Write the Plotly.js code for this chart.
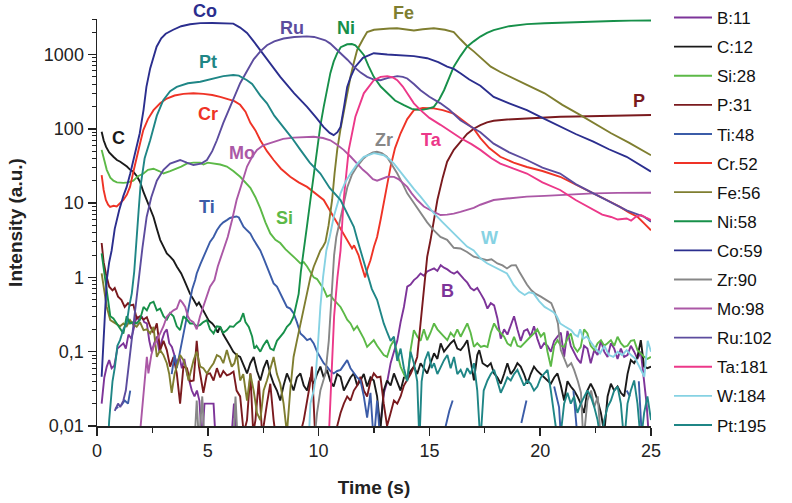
<!DOCTYPE html>
<html>
<head>
<meta charset="utf-8">
<script src="https://cdn.plot.ly/plotly-3.0.1.min.js"></script>
<style>html,body{margin:0;padding:0;background:#fff;}#chart{width:792px;height:503px;}</style>
</head>
<body>
<div id="chart"></div>
<script>
// Each series: [time (s), intensity (a.u.)]; null = gap
const B_11 = [[0.21,0.020],[0.33,0.045],[0.44,0.063],[0.55,0.077],[0.66,0.06],[0.78,0.065],[0.92,0.11],[1.05,0.12],[1.19,0.13],[1.3,0.11],[1.42,0.17],[1.55,0.15],[1.68,0.22],[1.79,0.3],[1.9,0.26],[2.02,0.3],[2.13,0.25],[2.25,0.24],[2.36,0.14],[2.47,0.1],[2.58,0.13],[2.7,0.16],[2.81,0.1],[2.92,0.14],[3.04,0.18],[3.15,0.2],[3.26,0.13],[3.38,0.116],[3.49,0.09],[3.6,0.07],[3.72,0.085],[3.83,0.06],[3.94,0.08],[4.06,0.051],[4.17,0.04],[4.28,0.03],[4.4,0.025],[4.51,0.03],[4.62,0.022],[4.74,0.006],[4.85,0.02],[4.96,0.02],[5.1,0.02],[5.26,0.02],[5.36,0.006],[6.05,0.006],[6.18,0.02],[6.3,0.006],[12.7,0.006],[12.95,0.028],[13.1,0.04],[13.25,0.07],[13.4,0.1],[13.55,0.14],[13.7,0.25],[13.85,0.4],[14.0,0.75],[14.15,0.8],[14.3,0.92],[14.45,1.0],[14.6,1.13],[14.75,1.05],[14.9,1.2],[15.05,1.25],[15.21,1.32],[15.36,1.22],[15.51,1.46],[15.66,1.35],[15.81,1.28],[15.96,1.18],[16.11,1.12],[16.26,1.2],[16.41,1.05],[16.56,0.95],[16.71,0.85],[16.86,0.72],[17.01,0.67],[17.16,0.72],[17.32,0.6],[17.47,0.5],[17.62,0.38],[17.77,0.45],[17.92,0.42],[18.07,0.28],[18.22,0.15],[18.37,0.2],[18.52,0.17],[18.67,0.22],[18.82,0.3],[18.97,0.2],[19.12,0.14],[19.27,0.19],[19.42,0.2],[19.57,0.16],[19.72,0.22],[19.87,0.15],[20.03,0.11],[20.18,0.13],[20.33,0.12],[20.48,0.1],[20.63,0.14],[20.78,0.16],[20.93,0.18],[21.08,0.085],[21.23,0.19],[21.38,0.12],[21.53,0.1],[21.68,0.08],[21.83,0.07],[21.98,0.12],[22.13,0.11],[22.28,0.07],[22.44,0.105],[22.59,0.09],[22.74,0.14],[22.89,0.1],[23.04,0.085],[23.19,0.13],[23.34,0.11],[23.49,0.08],[23.64,0.11],[23.79,0.085],[23.94,0.09],[24.09,0.12],[24.24,0.1],[24.39,0.08],[24.54,0.1],[24.69,0.04],[24.8,0.02],[24.92,0.006]];

const C_12 = [[0.21,91],[0.3,70],[0.41,57],[0.55,48],[0.74,42],[0.9,38],[1.05,36],[1.19,34],[1.35,31],[1.5,28],[1.64,26.5],[1.8,23],[1.94,19.4],[2.1,14],[2.24,11],[2.4,8.5],[2.55,6.5],[2.7,4.5],[2.85,3.2],[3.0,2.6],[3.15,2.1],[3.3,1.9],[3.45,1.7],[3.6,1.4],[3.8,1.13],[3.95,0.9],[4.06,0.75],[4.2,0.6],[4.36,0.5],[4.5,0.42],[4.6,0.46],[4.75,0.38],[4.9,0.3],[5.05,0.26],[5.2,0.24],[5.35,0.21],[5.45,0.18],[5.55,0.22],[5.7,0.17],[5.85,0.14],[6.0,0.12],[6.15,0.1],[6.3,0.09],[6.46,0.085],[6.62,0.065],[6.77,0.051],[6.92,0.07],[7.07,0.085],[7.22,0.055],[7.37,0.041],[7.52,0.06],[7.67,0.077],[7.82,0.05],[7.97,0.037],[8.12,0.03],[8.27,0.022],[8.42,0.035],[8.57,0.051],[8.72,0.04],[8.87,0.03],[9.02,0.045],[9.18,0.051],[9.33,0.035],[9.48,0.03],[9.63,0.045],[9.78,0.037],[9.93,0.05],[10.08,0.063],[10.23,0.045],[10.38,0.057],[10.53,0.04],[10.68,0.034],[10.84,0.05],[10.99,0.046],[11.14,0.03],[11.29,0.037],[11.44,0.045],[11.59,0.051],[11.74,0.035],[11.89,0.041],[12.04,0.05],[12.19,0.034],[12.34,0.045],[12.49,0.041],[12.64,0.025],[12.79,0.009],[12.94,0.03],[13.09,0.041],[13.25,0.035],[13.4,0.051],[13.55,0.04],[13.7,0.03],[13.85,0.045],[14.0,0.046],[14.15,0.055],[14.3,0.063],[14.45,0.05],[14.6,0.07],[14.75,0.06],[14.9,0.051],[15.05,0.07],[15.21,0.095],[15.36,0.08],[15.51,0.129],[15.66,0.1],[15.81,0.116],[15.96,0.13],[16.11,0.143],[16.26,0.11],[16.41,0.105],[16.56,0.12],[16.71,0.143],[16.86,0.08],[17.01,0.041],[17.16,0.09],[17.25,0.105],[17.4,0.07],[17.62,0.063],[17.77,0.07],[17.92,0.051],[18.07,0.045],[18.22,0.037],[18.37,0.05],[18.52,0.07],[18.67,0.05],[18.82,0.057],[18.97,0.07],[19.12,0.063],[19.27,0.05],[19.42,0.037],[19.57,0.05],[19.72,0.063],[19.87,0.055],[20.03,0.05],[20.18,0.046],[20.33,0.041],[20.48,0.037],[20.63,0.045],[20.78,0.051],[20.93,0.035],[21.08,0.022],[21.23,0.04],[21.38,0.034],[21.53,0.03],[21.68,0.025],[21.83,0.02],[21.98,0.015],[22.13,0.03],[22.28,0.037],[22.44,0.03],[22.59,0.022],[22.74,0.015],[22.89,0.008],[23.04,0.025],[23.19,0.037],[23.34,0.03],[23.49,0.034],[23.64,0.028],[23.79,0.025],[23.94,0.05],[24.09,0.077],[24.24,0.07],[24.39,0.085],[24.54,0.143],[24.69,0.063],[24.84,0.06],[25.0,0.063]];

const Si_28 = [[0.21,52],[0.3,40],[0.44,28],[0.6,22],[0.74,20],[0.9,19],[1.19,18.7],[1.4,19],[1.64,20],[1.85,23],[2.1,25],[2.3,28],[2.55,29],[2.8,27],[3.0,25],[3.3,27],[3.6,29],[3.8,31],[4.05,34],[4.35,35],[4.66,35],[4.8,33],[5.0,35],[5.26,34],[5.56,33],[5.86,31],[6.15,27],[6.46,22.6],[6.7,19],[6.92,16],[7.15,12],[7.37,8.5],[7.6,5.5],[7.82,3.9],[8.05,3.2],[8.27,2.9],[8.5,2.4],[8.72,2.1],[8.95,1.8],[9.18,1.54],[9.33,1.6],[9.48,1.4],[9.63,1.2],[9.78,1.0],[9.93,0.95],[10.08,0.83],[10.23,0.7],[10.38,0.55],[10.53,0.58],[10.68,0.5],[10.84,0.45],[10.99,0.4],[11.14,0.33],[11.29,0.27],[11.44,0.24],[11.59,0.195],[11.74,0.22],[11.89,0.18],[12.04,0.15],[12.19,0.116],[12.34,0.13],[12.49,0.143],[12.64,0.12],[12.79,0.105],[12.94,0.09],[13.09,0.085],[13.25,0.12],[13.4,0.143],[13.55,0.09],[13.7,0.063],[13.85,0.05],[14.0,0.041],[14.15,0.105],[14.3,0.195],[14.45,0.16],[14.6,0.14],[14.75,0.2],[14.9,0.143],[15.05,0.18],[15.21,0.24],[15.36,0.2],[15.51,0.176],[15.66,0.16],[15.81,0.143],[15.96,0.18],[16.11,0.159],[16.26,0.2],[16.41,0.159],[16.56,0.2],[16.71,0.24],[16.86,0.18],[17.01,0.116],[17.16,0.13],[17.32,0.116],[17.47,0.12],[17.62,0.116],[17.77,0.18],[17.92,0.24],[18.07,0.2],[18.22,0.176],[18.37,0.16],[18.52,0.129],[18.67,0.12],[18.82,0.159],[18.97,0.12],[19.12,0.116],[19.27,0.13],[19.42,0.143],[19.57,0.16],[19.72,0.176],[19.87,0.2],[20.03,0.16],[20.18,0.18],[20.33,0.1],[20.48,0.063],[20.63,0.12],[20.78,0.143],[20.93,0.12],[21.08,0.116],[21.23,0.15],[21.38,0.176],[21.53,0.116],[21.68,0.1],[21.83,0.116],[21.98,0.2],[22.13,0.176],[22.28,0.12],[22.44,0.105],[22.59,0.13],[22.74,0.143],[22.89,0.12],[23.04,0.13],[23.19,0.143],[23.34,0.12],[23.49,0.159],[23.64,0.13],[23.79,0.116],[23.94,0.12],[24.09,0.14],[24.24,0.143],[24.39,0.105],[24.54,0.095],[24.69,0.085],[24.84,0.08],[25.0,0.085]];

const P_31 = [[0.21,2.9],[0.3,1.6],[0.4,1.13],[0.55,0.75],[0.7,0.67],[0.8,0.72],[0.95,0.55],[1.1,0.5],[1.25,0.4],[1.4,0.45],[1.5,0.42],[1.64,0.43],[1.79,0.28],[1.94,0.3],[2.1,0.27],[2.25,0.29],[2.4,0.22],[2.55,0.18],[2.7,0.24],[2.85,0.105],[3.0,0.14],[3.15,0.105],[3.3,0.063],[3.45,0.085],[3.6,0.051],[3.75,0.02],[3.9,0.063],[4.06,0.06],[4.2,0.04],[4.36,0.041],[4.5,0.14],[4.6,0.063],[4.8,0.028],[4.96,0.05],[5.1,0.051],[5.26,0.041],[5.41,0.06],[5.56,0.045],[5.7,0.055],[5.86,0.048],[6.0,0.05],[6.16,0.054],[6.3,0.03],[6.46,0.025],[6.62,0.008],[6.77,0.012],[6.92,0.051],[7.05,0.008],[7.15,0.012],[7.3,0.041],[7.45,0.008],[7.52,0.01],[7.67,0.02],[7.82,0.037],[7.97,0.012],[8.1,0.006],[8.9,0.006],[9.18,0.008],[9.33,0.012],[9.48,0.022],[9.6,0.035],[9.7,0.063],[9.86,0.006],[10.6,0.006],[10.68,0.008],[10.84,0.01],[10.99,0.015],[11.14,0.02],[11.29,0.025],[11.44,0.022],[11.59,0.03],[11.74,0.035],[11.89,0.046],[12.04,0.03],[12.19,0.025],[12.34,0.04],[12.49,0.051],[12.64,0.045],[12.79,0.046],[12.94,0.02],[13.09,0.01],[13.25,0.015],[13.4,0.022],[13.55,0.02],[13.7,0.025],[13.85,0.035],[14.0,0.041],[14.15,0.05],[14.3,0.063],[14.45,0.085],[14.6,0.24],[14.75,0.67],[14.9,1.89],[15.05,3.18],[15.2,6],[15.36,11],[15.6,22],[15.8,36],[16.1,52],[16.4,66],[16.7,85],[17.0,100],[17.3,112],[17.6,122],[17.9,128],[18.5,133],[19.4,138],[20.2,141],[20.9,145],[21.6,146],[22.4,147],[23.2,149],[24.1,151],[25.0,153]];

const Ti_48 = [[0.82,0.017],[0.96,0.018],[1.0,null],[1.1,0.019],[1.25,0.022],[1.4,0.02],[1.5,0.03],[1.55,null],[3.37,0.05],[3.5,0.09],[3.6,0.06],[3.75,0.1],[3.9,0.18],[4.06,0.3],[4.2,0.5],[4.3,0.7],[4.43,0.92],[4.5,1.13],[4.66,1.5],[4.8,1.9],[4.96,2.4],[5.1,3.0],[5.26,3.5],[5.41,4.3],[5.56,5.0],[5.7,5.5],[5.86,5.9],[6.0,6.3],[6.16,6.5],[6.3,6.6],[6.4,6.4],[6.5,5.5],[6.61,4.8],[6.77,4.3],[6.92,3.9],[7.07,3.2],[7.2,2.8],[7.37,2.3],[7.52,1.8],[7.67,1.4],[7.82,1.1],[7.97,0.83],[8.12,0.75],[8.27,0.6],[8.42,0.5],[8.57,0.4],[8.72,0.38],[8.87,0.33],[9.02,0.25],[9.18,0.176],[9.33,0.16],[9.48,0.143],[9.63,0.15],[9.78,0.129],[9.93,0.1],[10.08,0.085],[10.23,0.07],[10.38,0.063],[10.53,0.055],[10.68,0.051],[10.84,0.055],[10.99,0.057],[11.14,0.065],[11.29,0.077],[11.44,0.06],[11.59,0.051],[11.74,0.045],[11.89,0.041],[12.04,0.025],[12.19,0.013],[12.34,0.028],[12.49,0.006],[12.64,0.022],[12.79,0.006],[12.85,null],[15.7,0.009],[15.9,0.016],[16.05,0.022],[16.1,null],[19.15,0.011],[19.38,0.022],[19.45,null],[20.63,0.034],[20.85,0.018],[20.95,0.006],[21.0,null],[21.5,0.03],[21.7,0.006],[21.75,null],[23.9,0.03],[24.05,0.025],[24.1,null],[24.45,0.04],[24.6,0.006]];

const Cr_52 = [[0.21,23.8],[0.3,15],[0.4,11],[0.5,9.5],[0.59,8.9],[0.75,9.2],[0.89,9],[1.05,10],[1.19,11],[1.35,13],[1.49,16.5],[1.65,27],[1.79,42],[1.95,65],[2.09,96],[2.3,135],[2.55,178],[2.85,220],[3.15,255],[3.5,280],[3.9,295],[4.35,300],[4.8,295],[5.2,285],[5.56,268],[5.9,250],[6.2,235],[6.46,210],[6.7,170],[6.92,120],[7.15,95],[7.37,70],[7.67,50],[7.97,38],[8.3,29],[8.72,22.6],[9.1,19],[9.48,16.5],[9.85,13.5],[10.23,11],[10.45,8.5],[10.68,6.5],[10.9,5],[11.13,3.9],[11.35,3],[11.51,2.45],[11.6,2.7],[11.8,2.0],[11.95,1.4],[12.1,1.0],[12.2,1.3],[12.34,1.7],[12.5,2.6],[12.64,3.5],[12.8,6],[12.95,11],[13.1,18],[13.25,31],[13.45,55],[13.7,87],[14.0,135],[14.3,178],[14.7,190],[15.2,188],[15.6,178],[16.1,160],[16.5,130],[17.0,100],[17.3,75],[17.7,55],[18.2,42],[18.8,35],[19.4,30.6],[20.1,27],[20.9,22.6],[21.7,17],[22.4,13.5],[23.0,11],[23.6,8.9],[24.0,7.5],[24.4,6.5],[24.7,5.3],[25.0,4.3]];

const Fe_56 = [[0.21,1.13],[0.33,0.6],[0.44,0.4],[0.6,0.266],[0.75,0.25],[0.89,0.23],[1.04,0.22],[1.19,0.24],[1.34,0.22],[1.49,0.266],[1.64,0.23],[1.79,0.216],[1.94,0.25],[2.1,0.195],[2.25,0.2],[2.4,0.176],[2.55,0.216],[2.7,0.085],[2.85,0.105],[3.0,0.09],[3.15,0.07],[3.26,0.05],[3.37,0.028],[3.5,0.05],[3.6,0.063],[3.75,0.09],[3.9,0.077],[4.02,0.06],[4.13,0.041],[4.25,0.06],[4.36,0.077],[4.5,0.1],[4.66,0.063],[4.8,0.06],[4.96,0.051],[5.1,0.06],[5.26,0.07],[5.41,0.09],[5.56,0.085],[5.7,0.07],[5.86,0.105],[5.97,0.08],[6.08,0.063],[6.2,0.07],[6.31,0.095],[6.46,0.041],[6.6,0.05],[6.77,0.022],[6.92,0.05],[7.07,0.03],[7.22,0.015],[7.37,0.012],[7.52,0.03],[7.67,0.041],[7.82,0.06],[7.97,0.085],[8.12,0.05],[8.27,0.037],[8.42,0.02],[8.57,0.008],[8.72,0.03],[8.87,0.085],[9.02,0.14],[9.18,0.24],[9.33,0.4],[9.48,0.67],[9.63,1.0],[9.78,1.39],[9.93,1.8],[10.08,2.3],[10.2,2.6],[10.31,3.0],[10.45,5],[10.61,11],[10.72,25],[10.84,52],[10.99,100],[11.14,178],[11.3,300],[11.44,500],[11.6,800],[11.74,1150],[12.0,1600],[12.19,2000],[12.5,2150],[12.79,2200],[13.2,2230],[13.54,2250],[13.9,2180],[14.3,2100],[14.7,2180],[15.2,2250],[15.7,2150],[16.1,2000],[16.4,1600],[16.7,1300],[17.0,1100],[17.4,850],[17.77,685],[18.2,580],[18.67,500],[19.4,390],[20.2,300],[21.0,210],[21.7,160],[22.5,115],[23.2,87],[24.0,65],[24.5,53],[25.0,44]];

const Ni_58 = [[0.21,2.1],[0.35,1.0],[0.44,0.67],[0.6,0.3],[0.74,0.28],[0.89,0.24],[1.04,0.2],[1.19,0.176],[1.34,0.3],[1.49,0.24],[1.64,0.25],[1.79,0.24],[1.94,0.27],[2.1,0.4],[2.25,0.36],[2.4,0.45],[2.55,0.47],[2.7,0.36],[2.85,0.38],[3.0,0.3],[3.15,0.27],[3.3,0.33],[3.45,0.3],[3.6,0.22],[3.75,0.195],[3.9,0.3],[4.06,0.27],[4.2,0.24],[4.36,0.24],[4.5,0.22],[4.66,0.23],[4.8,0.25],[4.96,0.266],[5.1,0.2],[5.26,0.176],[5.41,0.22],[5.56,0.216],[5.7,0.18],[5.86,0.195],[6.0,0.22],[6.16,0.216],[6.3,0.24],[6.46,0.26],[6.6,0.33],[6.7,0.25],[6.85,0.216],[7.0,0.16],[7.1,0.11],[7.2,0.12],[7.37,0.1],[7.5,0.12],[7.67,0.143],[7.82,0.11],[7.97,0.105],[8.12,0.14],[8.27,0.159],[8.42,0.18],[8.57,0.216],[8.72,0.24],[8.87,0.295],[9.0,0.45],[9.1,0.6],[9.2,1.2],[9.33,2.5],[9.48,5],[9.63,11],[9.78,25],[9.93,52],[10.08,110],[10.23,197],[10.38,330],[10.53,560],[10.68,800],[10.84,1040],[11.0,1250],[11.29,1370],[11.5,1380],[11.66,1330],[11.85,1150],[12.04,985],[12.25,700],[12.49,500],[12.8,370],[13.1,300],[13.45,240],[13.85,208],[14.2,185],[14.6,178],[14.9,185],[15.2,197],[15.45,250],[15.66,330],[15.9,480],[16.1,685],[16.4,950],[16.7,1270],[17.0,1500],[17.3,1740],[17.6,1950],[17.9,2130],[18.6,2400],[19.4,2560],[20.2,2630],[20.9,2680],[21.7,2730],[22.4,2780],[23.3,2820],[24.1,2850],[25.0,2870]];

const Co_59 = [[0.21,0.046],[0.3,0.15],[0.37,0.4],[0.44,0.92],[0.55,1.6],[0.66,2.3],[0.8,4.5],[1.0,8],[1.19,12.5],[1.34,16.5],[1.5,25],[1.65,40],[1.8,60],[1.93,87],[2.1,180],[2.23,366],[2.4,650],[2.55,950],[2.69,1270],[2.9,1650],[3.1,1900],[3.44,2150],[3.8,2400],[4.2,2550],[4.66,2640],[5.2,2650],[5.7,2640],[6.15,2600],[6.46,2300],[6.77,1950],[7.07,1500],[7.37,1130],[7.8,750],[8.27,500],[8.9,300],[9.48,197],[9.9,140],[10.22,106],[10.5,88],[10.68,82],[10.85,90],[10.99,106],[11.15,200],[11.29,366],[11.45,500],[11.66,685],[12.0,900],[12.49,1040],[13.1,1000],[13.7,985],[14.3,950],[14.9,890],[15.4,790],[15.8,685],[16.1,640],[16.4,560],[16.8,460],[17.3,380],[17.9,268],[18.6,220],[19.4,178],[20.1,140],[20.9,106],[21.6,85],[22.4,67],[23.1,53],[23.9,42],[24.5,33],[25.0,26.5]];

const Zr_90 = [[4.4,0.006],[4.5,0.022],[4.6,0.006],[4.75,0.025],[4.85,0.006],[6.15,0.006],[6.25,0.025],[6.35,0.006],[9.8,0.006],[9.93,0.015],[10.08,0.03],[10.2,0.041],[10.31,0.051],[10.46,0.14],[10.6,0.6],[10.7,2.0],[10.8,3.5],[11.0,6.5],[11.15,11],[11.3,16.5],[11.5,24],[11.73,31],[12.0,39],[12.2,44],[12.45,48],[12.63,49],[12.85,47],[13.08,42],[13.3,33],[13.55,25],[13.8,18],[14.0,13.5],[14.3,10],[14.6,7.3],[14.9,5.5],[15.2,4.3],[15.5,3.5],[15.8,3.2],[16.1,2.5],[16.4,2.45],[16.7,2.2],[17.0,1.9],[17.3,1.8],[17.6,1.7],[17.8,1.75],[18.07,1.54],[18.3,1.45],[18.5,1.32],[18.7,1.45],[18.9,1.46],[19.05,1.2],[19.2,1.0],[19.4,0.8],[19.6,0.67],[19.8,0.6],[20.03,0.55],[20.25,0.5],[20.5,0.45],[20.65,0.35],[20.8,0.24],[20.93,0.105],[21.1,0.08],[21.23,0.063],[21.4,0.07],[21.53,0.057],[21.7,0.04],[21.84,0.028],[21.95,0.006],[22.13,0.022],[22.3,0.03],[22.44,0.018],[22.6,0.025],[22.74,0.006]];

const Mo_98 = [[1.94,0.008],[2.1,0.03],[2.25,0.085],[2.32,0.051],[2.45,0.09],[2.55,0.116],[2.7,0.14],[2.85,0.176],[3.0,0.22],[3.15,0.295],[3.3,0.33],[3.45,0.36],[3.6,0.38],[3.75,0.5],[3.87,0.45],[3.98,0.4],[4.1,0.3],[4.2,0.266],[4.35,0.25],[4.5,0.2],[4.65,0.3],[4.8,0.4],[4.96,0.55],[5.1,0.75],[5.3,0.92],[5.45,1.4],[5.6,1.9],[5.75,2.6],[5.9,3.5],[6.1,6],[6.3,11],[6.5,17],[6.77,31],[7.0,42],[7.22,52],[7.5,60],[7.97,67],[8.4,73],[8.87,76],[9.3,77],[9.78,78],[10.2,75],[10.53,70],[10.8,62],[11.13,52],[11.45,42],[11.73,34],[12.0,28],[12.2,25],[12.45,21],[12.64,20],[12.85,21],[13.1,22.6],[13.4,22.5],[13.6,21],[14.0,16.5],[14.2,13.5],[14.45,11],[14.75,9],[15.05,8],[15.5,6.9],[15.8,7.0],[16.1,7.2],[16.4,7.6],[16.7,8],[17.0,8.6],[17.3,9.5],[17.6,10.2],[17.9,11],[18.5,11.5],[19.4,12.2],[20.2,12.5],[20.9,12.8],[21.6,13.2],[22.4,13.5],[23.5,13.7],[25.0,13.8]];

const Ru_102 = [[0.8,0.016],[0.95,0.02],[1.05,0.018],[1.19,0.022],[1.3,0.03],[1.42,0.06],[1.55,0.15],[1.68,0.3],[1.8,0.55],[1.94,1.2],[2.05,2.5],[2.24,6.5],[2.45,12],[2.7,20],[3.0,28],[3.3,34],[3.75,38],[4.05,35],[4.35,32.5],[4.7,34],[4.96,38],[5.2,50],[5.41,70],[5.7,120],[6.0,197],[6.2,280],[6.46,410],[6.77,600],[7.07,860],[7.37,1100],[7.67,1330],[8.0,1500],[8.42,1640],[8.9,1720],[9.47,1750],[9.8,1720],[10.08,1640],[10.3,1550],[10.53,1400],[10.75,1200],[10.99,1040],[11.3,850],[11.59,685],[11.9,570],[12.19,500],[12.5,460],[12.79,450],[13.1,480],[13.55,510],[13.8,500],[14.0,475],[14.3,400],[14.6,330],[15.0,270],[15.5,220],[15.9,180],[16.4,130],[16.8,110],[17.3,90],[17.9,63],[18.6,48],[19.4,38],[20.1,30],[20.9,25],[21.6,18],[22.4,13.5],[23.1,10.5],[23.9,8],[24.3,7.2],[24.7,6.5],[25.0,5.6]];

const Ta_181 = [[10.45,0.006],[10.6,0.07],[10.7,0.3],[10.85,1.0],[10.99,2.3],[11.13,11],[11.36,52],[11.66,145],[12.04,300],[12.49,450],[12.8,500],[13.1,510],[13.35,490],[13.55,450],[13.8,370],[14.0,300],[14.3,220],[14.6,178],[15.0,140],[15.5,113],[16.0,90],[16.4,75],[16.9,62],[17.3,52],[17.8,40],[18.2,34],[18.8,29],[19.4,25],[20.1,19],[20.9,15],[21.6,11],[22.0,9.5],[22.4,8],[22.8,7],[23.2,6.5],[23.5,6.0],[23.9,6.2],[24.1,5.8],[24.3,6.5],[24.55,6.9],[24.8,6.3],[25.0,5.9]];

const W_184 = [[9.55,0.006],[9.63,0.02],[9.78,0.03],[9.85,0.041],[9.95,0.1],[10.08,0.4],[10.2,1.0],[10.35,2.3],[10.5,3.5],[10.68,6.5],[10.99,13.5],[11.2,19],[11.44,25],[11.75,34],[12.04,42],[12.5,47],[12.94,44],[13.2,39],[13.4,34],[13.7,26],[14.0,20],[14.3,15.5],[14.6,12.2],[14.9,9.5],[15.2,7.3],[15.6,5.5],[16.1,3.9],[16.4,3.2],[16.7,2.6],[17.0,2.3],[17.3,1.8],[17.6,1.55],[17.9,1.39],[18.2,1.25],[18.5,1.13],[18.65,0.95],[18.8,0.79],[19.05,0.65],[19.3,0.58],[19.5,0.63],[19.7,0.61],[19.95,0.48],[20.2,0.4],[20.4,0.37],[20.6,0.34],[20.75,0.3],[20.9,0.24],[21.1,0.22],[21.4,0.195],[21.55,0.17],[21.7,0.16],[21.8,0.2],[21.95,0.15],[22.1,0.16],[22.3,0.13],[22.5,0.11],[22.7,0.095],[22.9,0.12],[23.1,0.09],[23.3,0.085],[23.5,0.1],[23.7,0.09],[23.9,0.105],[24.1,0.09],[24.3,0.08],[24.5,0.06],[24.7,0.046],[24.85,0.14],[25.0,0.1]];

const Pt_195 = [[0.5,0.006],[0.55,0.012],[0.7,0.04],[0.81,0.063],[0.92,0.12],[1.04,0.143],[1.19,0.2],[1.34,0.24],[1.45,0.4],[1.57,0.61],[1.68,1.2],[1.79,3.0],[1.88,8],[1.96,16.5],[2.15,40],[2.4,70],[2.7,150],[2.99,243],[3.3,320],[3.6,366],[4.1,410],[4.66,430],[5.2,470],[5.7,510],[6.15,530],[6.4,520],[6.77,450],[7.0,400],[7.37,280],[7.67,220],[8.0,150],[8.42,106],[8.8,75],[9.18,52],[9.6,35],[10.08,25],[10.5,16],[10.99,11],[11.3,7],[11.59,4.8],[11.75,3.2],[11.89,2.3],[12.04,1.6],[12.19,1.13],[12.4,0.7],[12.64,0.5],[12.8,0.33],[12.94,0.24],[13.1,0.18],[13.25,0.14],[13.4,0.16],[13.55,0.075],[13.7,0.11],[13.85,0.06],[14.0,0.04],[14.15,0.1],[14.3,0.07],[14.45,0.04],[14.55,0.006],[14.65,0.04],[14.8,0.077],[14.95,0.1],[15.1,0.06],[15.21,0.07],[15.36,0.05],[15.51,0.063],[15.66,0.077],[15.81,0.09],[15.96,0.06],[16.11,0.085],[16.26,0.05],[16.41,0.057],[16.56,0.045],[16.71,0.06],[16.86,0.05],[17.01,0.07],[17.16,0.03],[17.3,0.006],[17.45,0.03],[17.62,0.041],[17.77,0.05],[17.92,0.057],[18.07,0.04],[18.22,0.028],[18.37,0.035],[18.52,0.045],[18.67,0.041],[18.82,0.05],[18.97,0.057],[19.12,0.045],[19.27,0.035],[19.42,0.041],[19.57,0.037],[19.72,0.03],[19.87,0.034],[20.03,0.045],[20.18,0.05],[20.33,0.057],[20.48,0.03],[20.63,0.015],[20.8,0.006],[20.93,0.008],[21.08,0.02],[21.23,0.028],[21.38,0.02],[21.53,0.025],[21.68,0.015],[21.83,0.02],[21.98,0.025],[22.13,0.03],[22.28,0.025],[22.44,0.018],[22.59,0.012],[22.74,0.006],[22.89,0.012],[23.04,0.018],[23.19,0.022],[23.34,0.03],[23.49,0.034],[23.64,0.02],[23.79,0.006],[23.94,0.02],[24.09,0.03],[24.24,0.041],[24.39,0.02],[24.54,0.006],[24.69,0.015],[24.84,0.025],[25.0,0.012]];

const legendNames = ['B:11','C:12','Si:28','P:31','Ti:48','Cr.52','Fe:56','Ni:58','Co:59','Zr:90','Mo:98','Ru:102','Ta:181','W:184','Pt:195'];
const seriesData = [B_11, C_12, Si_28, P_31, Ti_48, Cr_52, Fe_56, Ni_58, Co_59, Zr_90, Mo_98, Ru_102, Ta_181, W_184, Pt_195];
const colors = ['#7d3499','#1a1a1a','#5cb947','#7a1a1e','#3b5ca8','#ef3326','#7f7e30','#17904a','#2b2e8e','#878787','#ab58a6','#5c4c9e','#ec3889','#86d2e3','#1f8686'];

// Element labels drawn on the chart
const labelText = ['Co','Pt','Cr','C','Mo','Ti','Si','Ru','Ni','Fe','Zr','Ta','W','B','P'];
const labelColor = ['#2b2e8e','#1f8686','#ef3326','#1a1a1a','#ab58a6','#3b5ca8','#5cb947','#5c4c9e','#17904a','#7f7e30','#878787','#ec3889','#86d2e3','#7d3499','#7a1a1e'];
const labelPx = [[205,11],[208,62],[208,114],[118,138],[242,153],[207,207],[284,218],[292,28],[346,28],[403,13],[384,140],[431,140],[489,238],[447,291],[639,101]];

const PL = 97, PR = 651, PT = 19, PB = 426;

const traces = seriesData.map((s, i) => ({
  type: 'scatter', mode: 'lines',
  x: s.map(p => p[0]), y: s.map(p => p[1]),
  name: legendNames[i], legendgroup: 'g' + i,
  line: {color: colors[i], width: 1.9},
  connectgaps: false, hoverinfo: 'skip'
}));

const annotations = labelText.map((t, i) => ({
  text: '<b>' + t + '</b>', showarrow: false,
  xref: 'paper', yref: 'paper',
  x: (labelPx[i][0] - PL) / (PR - PL), y: (PB - labelPx[i][1]) / (PB - PT),
  xanchor: 'center', yanchor: 'middle',
  font: {size: 18, color: labelColor[i], family: 'Liberation Sans, Arial, sans-serif'}
}));

const layout = {
  width: 792, height: 503,
  margin: {l: PL, r: 792 - PR, t: PT, b: 503 - PB, autoexpand: false},
  paper_bgcolor: '#fff', plot_bgcolor: '#fff',
  separators: ', ',
  font: {family: 'Liberation Sans, Arial, sans-serif', color: '#222'},
  showlegend: true,
  legend: {xref: 'container', yref: 'container', x: 669 / 792, xanchor: 'left', y: 1.008, yanchor: 'top',
           font: {size: 17, color: '#111'}, tracegroupgap: 4, traceorder: 'grouped', itemwidth: 38,
           bgcolor: 'rgba(0,0,0,0)', maxheight: 1},
  xaxis: {range: [0, 25], dtick: 5, tick0: 0, ticks: 'outside', ticklen: 8, tickwidth: 1.5, tickcolor: '#222',
          showline: true, linecolor: '#222', linewidth: 1.5, showgrid: false, zeroline: false,
          tickfont: {size: 18, color: '#222'},
          minor: {dtick: 2.5, ticks: 'outside', ticklen: 5, tickwidth: 1.2, tickcolor: '#222', showgrid: false},
          title: {text: '<b>Time (s)</b>', font: {size: 19, color: '#222'}, standoff: 20}},
  yaxis: {type: 'log', range: [-2, Math.log10(3000)], dtick: 1, ticks: 'outside', ticklen: 8, tickwidth: 1.5, tickcolor: '#222',
          showline: true, linecolor: '#222', linewidth: 1.5, showgrid: false, zeroline: false,
          tickfont: {size: 18, color: '#222'},
          minor: {dtick: 'D1', ticks: 'outside', ticklen: 4, tickwidth: 1, tickcolor: '#222', showgrid: false},
          title: {text: '<b>Intensity (a.u.)</b>', font: {size: 19, color: '#222'}, standoff: 16}},
  annotations: annotations
};

Plotly.newPlot('chart', traces, layout, {displayModeBar: false, staticPlot: true});
</script>
</body>
</html>
